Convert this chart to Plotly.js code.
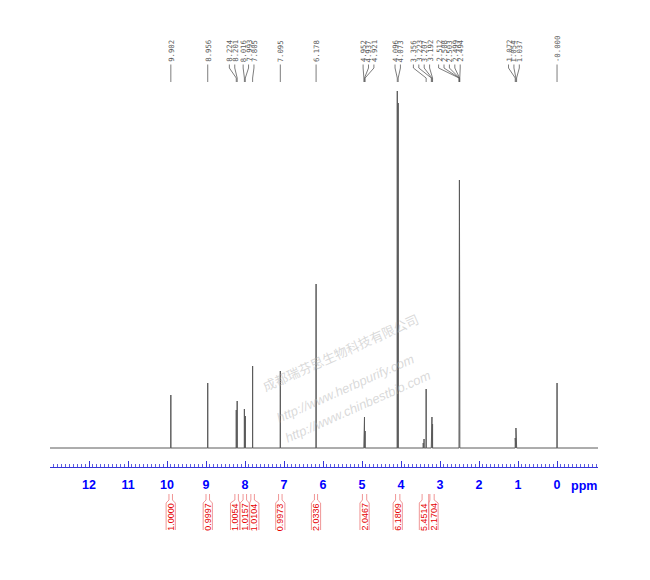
<!DOCTYPE html>
<html><head><meta charset="utf-8">
<script src="https://cdn.plot.ly/plotly-3.0.1.min.js"></script>
<style>html,body{margin:0;padding:0;background:#fff}</style>
</head><body><div id="chart" style="width:650px;height:580px"></div>
<script>
// ---- data ----
const peakPpm    = [9.902, 8.956, 8.224, 8.201, 8.016, 7.993, 7.805, 7.095, 6.178, 4.952, 4.937, 4.921, 4.096, 4.073, 3.430, 3.410, 3.356, 3.223, 3.207, 3.192, 2.512, 2.508, 2.503, 2.499, 2.494, 1.072, 1.054, 1.037, 0.000];
const peakHeight = [53, 65, 38, 47, 39, 32, 82, 77, 164, 16, 31, 17, 357, 345, 5, 9, 59, 22, 31, 24, 90, 180, 268, 180, 90, 10, 20, 10, 65];
const peakLabels = ["9.902","8.956","8.224","8.201","8.016","7.993","7.805","7.095","6.178","4.952","4.937","4.921","4.096","4.073","3.356","3.223","3.207","3.192","2.512","2.508","2.503","2.499","2.494","1.072","1.054","1.037","-0.000"];
const intFrom  = [9.95, 9.00, 8.26, 8.05, 7.85, 7.14, 6.22, 4.99, 4.14, 3.46, 3.26];
const intTo    = [9.86, 8.91, 8.17, 7.96, 7.76, 7.05, 6.14, 4.88, 4.03, 3.29, 3.15];
const intValues = ["1.0000","0.9997","1.0054","1.0157","1.0104","0.9973","2.0336","2.0467","6.1809","5.4514","2.1704"];
const tickValues = [12, 11, 10, 9, 8, 7, 6, 5, 4, 3, 2, 1, 0];
const tickLabels = ["12","11","10","9","8","7","6","5","4","3","2","1","0"];
const watermarkCn = "成都瑞芬思生物科技有限公司";
const watermarkUrl1 = "http://www.herbpurify.com";
const watermarkUrl2 = "http://www.chinbestbio.com";

// ---- layout geometry ----
const W = 650, H = 580;
const L = 50, R = 598, T = 85, B = 467;
const X0 = 13.0, X1 = -1.05;
const px2paperX = px => (px - L) / (R - L);
const py2paperY = py => (B - py) / (B - T);
const ppm2px = v => L + (X0 - v) / (X0 - X1) * (R - L);

// ---- spectrum line built from peak list ----
const order = peakPpm.map((v, i) => i).sort((a, b) => peakPpm[b] - peakPpm[a]);
const hw = 0.0015;
const sx = [13.5], sy = [0];
order.forEach(i => {
  sx.push(peakPpm[i] + hw, peakPpm[i], peakPpm[i] - hw);
  sy.push(0, peakHeight[i], 0);
});
sx.push(-1.5); sy.push(0);

function spread(pos, gap) {
  const p = pos.slice();
  for (let it = 0; it < 2000; it++) {
    let moved = false;
    for (let i = 0; i < p.length - 1; i++) {
      const d = p[i + 1] - p[i];
      if (d < gap - 1e-6) { const s = (gap - d) / 2; p[i] -= s; p[i + 1] += s; moved = true; }
    }
    if (!moved) break;
  }
  return p;
}

const shapes = [], annotations = [];
const gray = "#5c5c5c";

// label-group nudges (pixels), keyed by first label of a group
const groupNudge = {"8.224": -3, "4.952": 4, "3.356": -9, "2.512": -10, "1.072": -2};

// peak labels
const lpPx = peakLabels.map(t => ppm2px(parseFloat(t)));
let labPx = spread(lpPx, 5.4);
// apply nudges group-wise
let curNudge = 0;
for (let i = 0; i < labPx.length; i++) {
  const isNewGroup = i === 0 || (lpPx[i] - lpPx[i - 1] > 6);
  if (isNewGroup) curNudge = groupNudge[peakLabels[i]] || 0;
  labPx[i] += curNudge;
}
labPx.forEach((lx, i) => {
  const pxk = lpPx[i];
  annotations.push({
    xref: "paper", yref: "paper", x: px2paperX(lx), y: py2paperY(63),
    xanchor: "center", yanchor: "bottom", text: peakLabels[i], textangle: -90,
    showarrow: false, borderpad: 0,
    font: {family: "DejaVu Sans Mono, monospace", size: 7.3, color: gray}
  });
  const path = "M" + px2paperX(lx) + "," + py2paperY(64.5) +
    " L" + px2paperX(lx) + "," + py2paperY(68) +
    " L" + px2paperX(pxk) + "," + py2paperY(78) +
    " L" + px2paperX(pxk) + "," + py2paperY(82);
  shapes.push({type: "path", xref: "paper", yref: "paper", path: path, line: {color: gray, width: 0.8}});
});

// integration boxes
const icPx = intFrom.map((a, i) => (ppm2px(a) + ppm2px(intTo[i])) / 2);
const boxPx = spread(icPx, 9.6);
const pink = "#ee8a8a";
boxPx.forEach((c, i) => {
  const a = ppm2px(intFrom[i]), b = ppm2px(intTo[i]), hwb = 4.6;
  const p1 = "M" + px2paperX(a) + "," + py2paperY(494) + " L" + px2paperX(a) + "," + py2paperY(500) +
    " L" + px2paperX(c - hwb) + "," + py2paperY(503) + " L" + px2paperX(c - hwb) + "," + py2paperY(530);
  const p2 = "M" + px2paperX(b) + "," + py2paperY(494) + " L" + px2paperX(b) + "," + py2paperY(500) +
    " L" + px2paperX(c + hwb) + "," + py2paperY(503) + " L" + px2paperX(c + hwb) + "," + py2paperY(530);
  shapes.push({type: "path", xref: "paper", yref: "paper", path: p1, line: {color: pink, width: 0.9}});
  shapes.push({type: "path", xref: "paper", yref: "paper", path: p2, line: {color: pink, width: 0.9}});
  annotations.push({
    xref: "paper", yref: "paper", x: px2paperX(c), y: py2paperY(517),
    xanchor: "center", yanchor: "middle", text: intValues[i], textangle: -90,
    showarrow: false, borderpad: 0,
    font: {family: "Liberation Sans, Arial, sans-serif", size: 9, color: "#e60000"}
  });
});

// ppm unit label
annotations.push({
  xref: "paper", yref: "paper", x: px2paperX(584), y: py2paperY(486),
  xanchor: "center", yanchor: "middle", text: "ppm", showarrow: false,
  font: {family: "Liberation Sans, Arial, sans-serif", size: 12.5, color: "#0000ff", weight: "bold"}
});

// watermark
const wmFont = {family: "Liberation Sans, Arial, sans-serif", size: 13, color: "rgba(180,180,180,0.5)", style: "italic"};
annotations.push({xref: "paper", yref: "paper", x: px2paperX(340), y: py2paperY(398), text: watermarkCn, textangle: -24, showarrow: false,
  font: {family: "Noto Sans CJK SC, sans-serif", size: 13, color: "rgba(180,180,180,0.5)"}});
annotations.push({xref: "paper", yref: "paper", x: px2paperX(345), y: py2paperY(428), text: watermarkUrl1, textangle: -24, showarrow: false, font: wmFont});
annotations.push({xref: "paper", yref: "paper", x: px2paperX(358), y: py2paperY(448), text: watermarkUrl2, textangle: -24, showarrow: false, font: wmFont});

const axisBlue = "#3535d8";
const trace = {
  x: sx, y: sy, type: "scatter", mode: "lines",
  line: {color: "#5a5a5a", width: 1}, hoverinfo: "skip"
};
const layout = {
  width: W, height: H,
  margin: {l: L, r: W - R, t: T, b: H - B},
  paper_bgcolor: "#ffffff", plot_bgcolor: "#ffffff",
  showlegend: false,
  xaxis: {
    range: [X0, X1], tickmode: "array", tickvals: tickValues, ticktext: tickLabels,
    ticks: "inside", ticklen: 6, tickwidth: 1, tickcolor: axisBlue,
    showline: true, linecolor: axisBlue, linewidth: 1,
    showgrid: false, zeroline: false, ticklabelstandoff: 6,
    tickfont: {family: "Liberation Sans, Arial, sans-serif", size: 12.5, color: "#0000ff", weight: "bold"},
    minor: {tickmode: "linear", tick0: 0, dtick: 0.1, ticks: "inside", ticklen: 3, tickcolor: axisBlue, tickwidth: 0.8, showgrid: false}
  },
  yaxis: {range: [-19, 363], visible: false, showgrid: false, zeroline: false},
  shapes: shapes, annotations: annotations
};
Plotly.newPlot("chart", [trace], layout, {staticPlot: true, displayModeBar: false});
</script></body></html>
